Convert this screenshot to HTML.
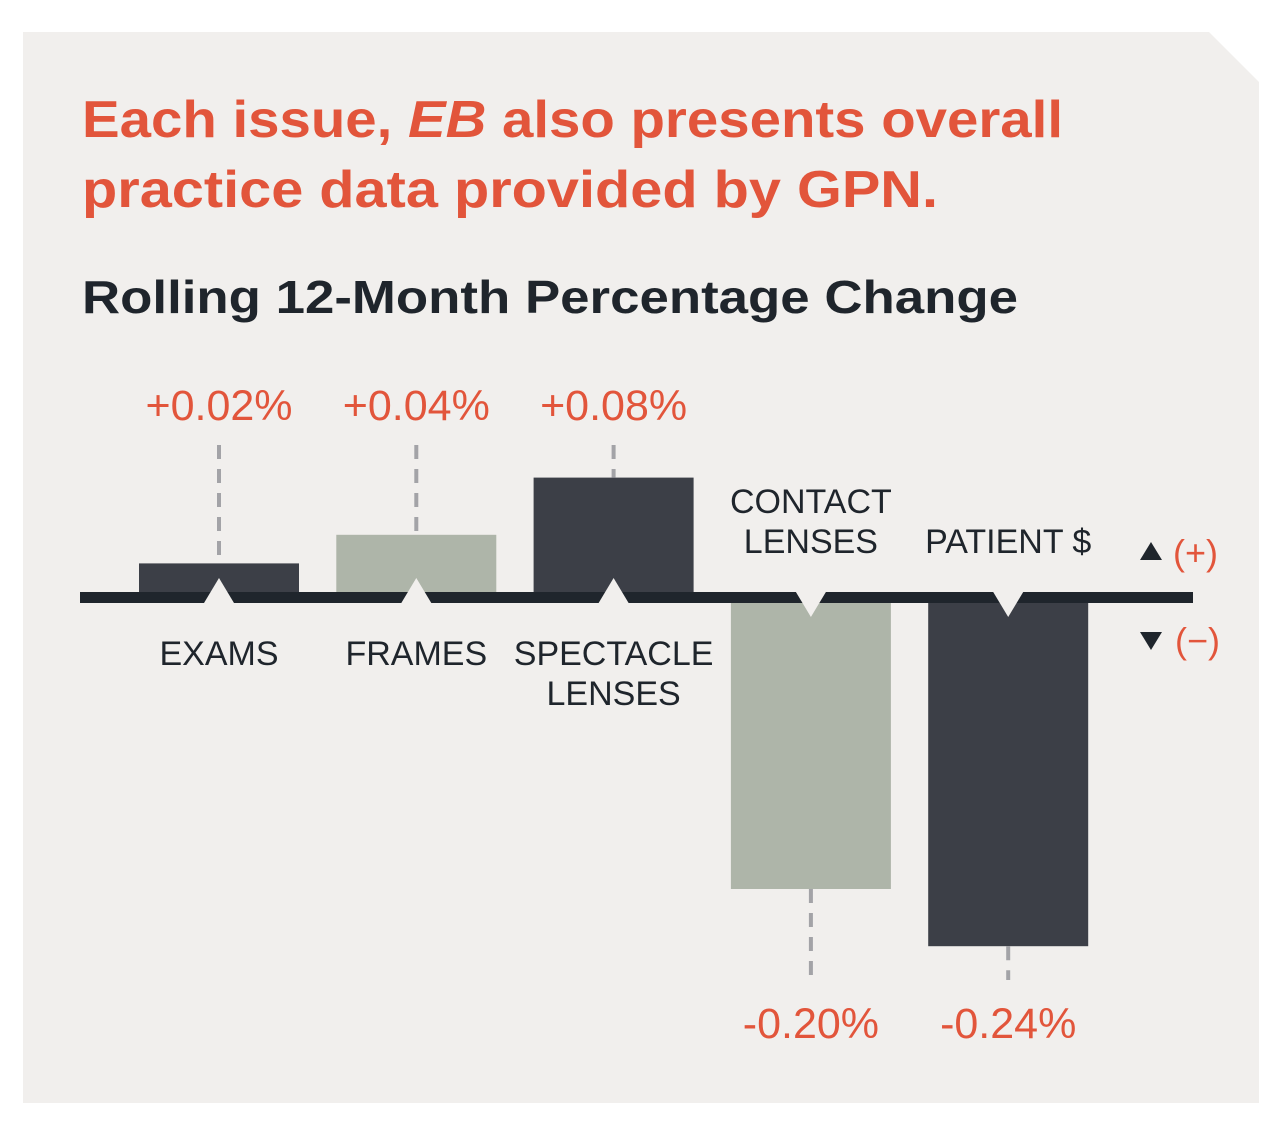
<!DOCTYPE html>
<html><head><meta charset="utf-8"><style>
html,body{margin:0;padding:0;background:#fff;}
svg{display:block;font-family:"Liberation Sans",sans-serif;}
</style></head><body>
<svg id="chart" width="1280" height="1129" viewBox="0 0 1280 1129" xmlns="http://www.w3.org/2000/svg">
<polygon points="23,32 1209,32 1259,82 1259,1103 23,1103" fill="#f1efed"/>
<text x="82" y="137" font-size="52" font-weight="bold" fill="#e2553b" textLength="981" lengthAdjust="spacingAndGlyphs">Each issue, <tspan font-style="italic">EB</tspan> also presents overall</text>
<text x="82" y="207" font-size="52" font-weight="bold" fill="#e2553b" textLength="856" lengthAdjust="spacingAndGlyphs">practice data provided by GPN.</text>
<text x="82" y="313" font-size="46" font-weight="bold" fill="#1f252c" textLength="936" lengthAdjust="spacingAndGlyphs">Rolling 12-Month Percentage Change</text>
<g id="marks"></g>
<rect x="80" y="592" width="1113" height="11" fill="#1f252c"/>
<g id="notches"></g>
<g id="labels"></g>
<polygon points="1140,560 1162,560 1151,542" fill="#1f252c"/>
<text x="1173" y="565" font-size="36" fill="#e2553b">(+)</text>
<polygon points="1140,632 1162,632 1151,650" fill="#1f252c"/>
<text x="1175" y="653" font-size="36" fill="#e2553b">(−)</text>
</svg>
<script>
const categories = [["EXAMS"],["FRAMES"],["SPECTACLE","LENSES"],["CONTACT","LENSES"],["PATIENT $"]];
const values = [0.02, 0.04, 0.08, -0.20, -0.24];
const valueLabels = ["+0.02%","+0.04%","+0.08%","-0.20%","-0.24%"];
const barColors = ["#3c3f47","#aeb5a9","#3c3f47","#aeb5a9","#3c3f47"];

const NS="http://www.w3.org/2000/svg";
const zeroTop=592, zeroBot=603, scale=1430;
const xCenter=i=>219+i*197.3;
const barW=160;
function yOf(v){return v>=0? zeroTop - v*scale : zeroBot - v*scale;}
function mk(tag,attrs,parent){const e=document.createElementNS(NS,tag);for(const k in attrs)e.setAttribute(k,attrs[k]);document.getElementById(parent).appendChild(e);return e;}

values.forEach((v,i)=>{
  const cx=xCenter(i), y=yOf(v), pos=v>=0;
  const top=pos?y:zeroBot, h=pos?zeroTop-y:y-zeroBot;
  const bar=mk('rect',{x:cx-barW/2,y:top,width:barW,height:h,fill:barColors[i]},'marks');
  
  
  const dash=mk('line',{x1:cx,x2:cx,y1:pos?445:y,y2:pos?y:980,stroke:"#a3a3a7","stroke-width":4,"stroke-dasharray":"14 10"},'marks');
  
  
  const tri=mk('polygon',{points:pos?`${cx-15},${zeroBot} ${cx+15},${zeroBot} ${cx},${zeroBot-25}`:`${cx-15},${zeroTop} ${cx+15},${zeroTop} ${cx},${zeroTop+25}`,fill:"#f1efed"},'notches');
  
  
  const vl=mk('text',{x:cx,y:pos?420:1038,"font-size":43,fill:"#e2553b","text-anchor":"middle"},'labels');
  vl.textContent=valueLabels[i];
  
  
  const lines=categories[i];
  lines.forEach((t,j)=>{
    let by;
    if(pos) by=665+j*40; else by=553-(lines.length-1-j)*40;
    const cl=mk('text',{x:cx,y:by,"font-size":34,fill:"#1f252c","text-anchor":"middle"},'labels');
    cl.textContent=t;
    
    
  });
});
</script>
</body></html>
